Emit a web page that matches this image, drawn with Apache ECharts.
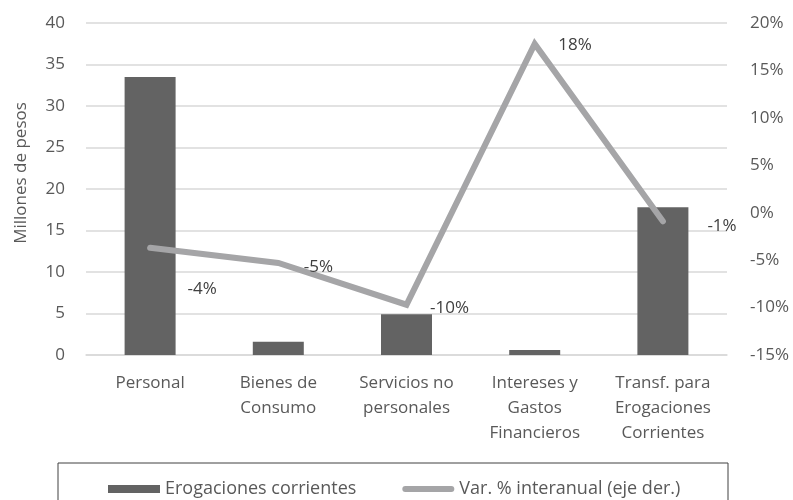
<!DOCTYPE html>
<html>
<head>
<meta charset="utf-8">
<script src="https://cdn.jsdelivr.net/npm/echarts@6/dist/echarts.min.js"></script>
<style>
  html, body { margin: 0; padding: 0; background: #fff; }
  #chart { width: 793px; height: 500px; }
</style>
</head>
<body>
<div id="chart"></div>
<script>
// data
const categories = ['Personal', 'Bienes de\nConsumo', 'Servicios no\npersonales', 'Intereses y\nGastos\nFinancieros', 'Transf. para\nErogaciones\nCorrientes'];
const erogaciones = [33.5, 1.6, 4.9, 0.6, 17.8];
const variacion = [-3.7, -5.3, -9.7, 17.8, -0.9];
const variacionLabels = ['-4%', '-5%', '-10%', '18%', '-1%'];

const font = '"Open Sans", sans-serif';
const labelOffsets = [[14, 41], [2, 4], [0, 3], [0, 1], [21, 5]];

const chart = echarts.init(document.getElementById('chart'));
chart.setOption({
  animation: false,
  textStyle: { fontFamily: font },
  grid: { left: 86, right: 66, top: 23, bottom: 145, outerBoundsMode: 'none' },
  legend: {
    left: 103, top: 475,
    itemGap: 46,
    itemWidth: 52, itemHeight: 8,
    textStyle: { fontSize: 18, color: '#595959', fontFamily: font },
    data: [
      { name: 'Erogaciones corrientes', icon: 'rect' },
      {
        name: 'Var. % interanual (eje der.)',
        icon: 'path://M3,0 L49,0 A3,3 0 0 1 49,6 L3,6 A3,3 0 0 1 3,0 Z',
        itemStyle: { color: '#a5a5a7', opacity: 1 }
      }
    ]
  },
  graphic: [{
    type: 'rect',
    shape: { x: 58, y: 463, width: 670, height: 45 },
    style: { fill: 'none', stroke: '#404040', lineWidth: 1 }
  }],
  xAxis: {
    type: 'category',
    data: categories,
    axisTick: { show: false },
    axisLine: { lineStyle: { color: '#d9d9d9', width: 1.5 } },
    axisLabel: { fontSize: 17, color: '#595959', lineHeight: 25, margin: 16, interval: 0 }
  },
  yAxis: [{
    type: 'value',
    min: 0, max: 40, interval: 5,
    name: 'Millones de pesos',
    nameLocation: 'middle',
    nameGap: 56,
    nameTextStyle: { fontSize: 17, color: '#595959', padding: [0, 0, 0, 32] },
    axisLabel: { fontSize: 17, color: '#595959', margin: 21 },
    splitLine: { lineStyle: { color: '#d9d9d9', width: 1.5 } }
  }, {
    type: 'value',
    min: -15, max: 20, interval: 5,
    axisLabel: { fontSize: 17, color: '#595959', margin: 23, formatter: '{value}%' },
    splitLine: { show: false }
  }],
  series: [{
    name: 'Erogaciones corrientes',
    type: 'bar',
    data: erogaciones,
    barWidth: 51,
    itemStyle: { color: '#636363' }
  }, {
    name: 'Var. % interanual (eje der.)',
    type: 'line',
    yAxisIndex: 1,
    data: variacion.map((v, i) => ({
      value: v,
      label: { offset: labelOffsets[i] }
    })),
    symbol: 'circle',
    symbolSize: 1,
    showSymbol: true,
    lineStyle: { color: '#a5a5a7', width: 6, cap: 'round', join: 'miter' },
    itemStyle: { color: '#a5a5a7' },
    label: {
      show: true,
      position: 'right',
      distance: 23,
      fontSize: 17,
      color: '#404040',
      formatter: p => variacionLabels[p.dataIndex]
    }
  }]
});
</script>
</body>
</html>
